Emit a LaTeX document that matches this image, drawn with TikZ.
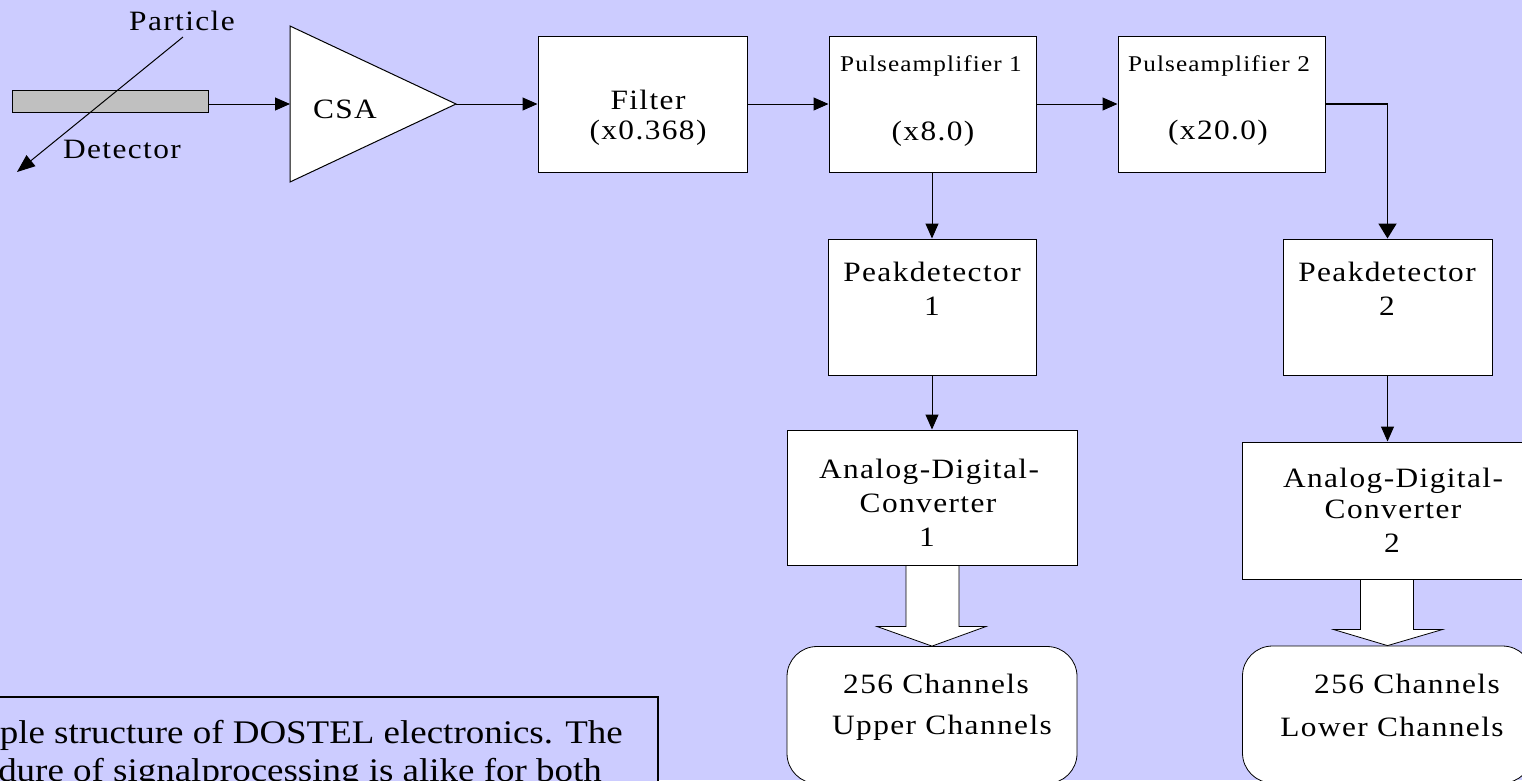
\documentclass[tikz,border=0pt]{standalone}
\usepackage{fontspec}
\setmainfont{Liberation Serif}
\newfontfamily\labfont[FakeStretch=1.12,LetterSpace=5]{Liberation Serif}
\newfontfamily\capfont[FakeStretch=1.12]{Liberation Serif}
\usetikzlibrary{arrows.meta,calc}
\definecolor{bgblue}{RGB}{204,204,255}
\definecolor{detgray}{RGB}{192,192,192}
\tikzset{
  box/.style={draw=black, line width=1pt, fill=white, rectangle, inner sep=0pt},
  chbox/.style={draw=black, line width=0.8pt, fill=white, rectangle, rounded corners=30pt, inner sep=0pt},
  lab/.style={font=\labfont\fontsize{28}{34}\selectfont, anchor=base, inner sep=0pt},
  labsmall/.style={font=\labfont\fontsize{22.5}{27}\selectfont, anchor=base, inner sep=0pt},
  capt/.style={font=\capfont\fontsize{33}{38}\selectfont, anchor=base east, inner sep=0pt},
  arr/.style={line width=1pt, -{Triangle[length=15pt,width=13pt]}},
  arrthick/.style={line width=1.8pt, -{Triangle[length=15pt,width=18pt]}},
  blockarrow/.style={draw=black, line width=0.8pt, fill=white}
}
\begin{document}
\begin{tikzpicture}[x=1pt,y=-1pt]
\useasboundingbox (0,0) rectangle (1522,780);
\fill[bgblue] (0,0) rectangle (1522,780);
\clip (0,0) rectangle (1522,780);

% detector bar
\node[box, fill=detgray, minimum width=196pt, minimum height=22pt] (det) at (110,101) {};
% particle track
\coordinate (pstart) at (183,37);
\coordinate (pend) at (17,172);
\draw[line width=1pt, -{Triangle[length=18pt,width=14pt]}] (pstart) -- (pend);
\node[lab] (tparticle) at (182,30) {Particle};
\node[lab] (tdetector) at (122,158) {Detector};

% CSA triangle
\coordinate (csain) at (290,104);
\coordinate (csaout) at (456,104);
\filldraw[fill=white, draw=black, line width=1pt] (290,26) -- (csaout) -- (290,182) -- cycle;
\node[lab] (tcsa) at (345,118) {CSA};

% main boxes
\node[box, minimum width=209pt, minimum height=136pt] (filter) at (642.5,104) {};
\node[box, minimum width=207pt, minimum height=136pt] (pa1) at (932.5,104) {};
\node[box, minimum width=207pt, minimum height=136pt] (pa2) at (1221.5,104) {};
\node[box, minimum width=208pt, minimum height=136pt] (pd1) at (932,307) {};
\node[box, minimum width=209pt, minimum height=136pt] (pd2) at (1387.5,307) {};
\node[box, minimum width=290pt, minimum height=135pt] (adc1) at (932,497.5) {};
\node[box, minimum width=290pt, minimum height=137pt] (adc2) at (1387.5,510.5) {};
\node[chbox, minimum width=290pt, minimum height=137pt] (ch1) at (932,715) {};
\node[chbox, minimum width=290pt, minimum height=137pt] (ch2) at (1387.5,714.5) {};

% texts
\node[lab] (tfilter) at (648,109) {Filter};
\node[lab] (tfilterg) at (648,139) {(x0.368)};
\node[labsmall] (tpa1) at (931,71) {Pulseamplifier 1};
\node[lab] (tpa1g) at (933,140) {(x8.0)};
\node[labsmall] (tpa2) at (1219,71) {Pulseamplifier 2};
\node[lab] (tpa2g) at (1218,139) {(x20.0)};
\node[lab] (tpd1) at (932,281) {Peakdetector};
\node[lab] (tpd1n) at (932,315) {1};
\node[lab] (tpd2) at (1387,281) {Peakdetector};
\node[lab] (tpd2n) at (1387,315) {2};
\node[lab] (tadc1a) at (929,478) {Analog-Digital-};
\node[lab] (tadc1b) at (928,512) {Converter};
\node[lab] (tadc1c) at (927,546) {1};
\node[lab] (tadc2a) at (1393,487) {Analog-Digital-};
\node[lab] (tadc2b) at (1393,518) {Converter};
\node[lab] (tadc2c) at (1392,552) {2};
\node[lab] (tch1a) at (936,693) {256 Channels};
\node[lab] (tch1b) at (942,734) {Upper Channels};
\node[lab] (tch2a) at (1407,693) {256 Channels};
\node[lab] (tch2b) at (1392,736) {Lower Channels};

% connectors
\draw[arr] (det.east |- csain) -- (csain);
\draw[arr] (csaout) -- (filter.west);
\draw[arr] (filter.east) -- (pa1.west);
\draw[arr] (pa1.east) -- (pa2.west);
\draw[arrthick] (pa2.east) -| (pd2.north);
\draw[arr] (pd1.north |- pa1.south) -- (pd1.north);
\draw[arr] (pd1.south) -- (adc1.north);
\draw[arr] (pd2.south) -- (adc2.north);

% block arrows
\filldraw[blockarrow] ($(adc1.south)+(-26,0)$) -- ++(0,61) -- ++(-29,0) -- (ch1.north) -- ($(adc1.south)+(54,61)$) -- ++(-27,0) -- ($(adc1.south)+(27,0)$) -- cycle;
\filldraw[blockarrow] ($(adc2.south)+(-27,0)$) -- ++(0,50) -- ++(-27,0) -- (ch2.north) -- ($(adc2.south)+(55,50)$) -- ++(-29,0) -- ($(adc2.south)+(26,0)$) -- cycle;

% caption box (clipped by the picture edge, as in the original)
\node[draw=black, line width=2pt, fill=bgblue, rectangle, minimum width=700pt, minimum height=150pt, inner sep=0pt] (capbox) at (308,772) {};
\node[capt] (cap1) at (623,743) {ple structure of DOSTEL electronics. The};
\node[capt] (cap2) at (602,781) {dure of signalprocessing is alike for both};
\end{tikzpicture}
\end{document}
